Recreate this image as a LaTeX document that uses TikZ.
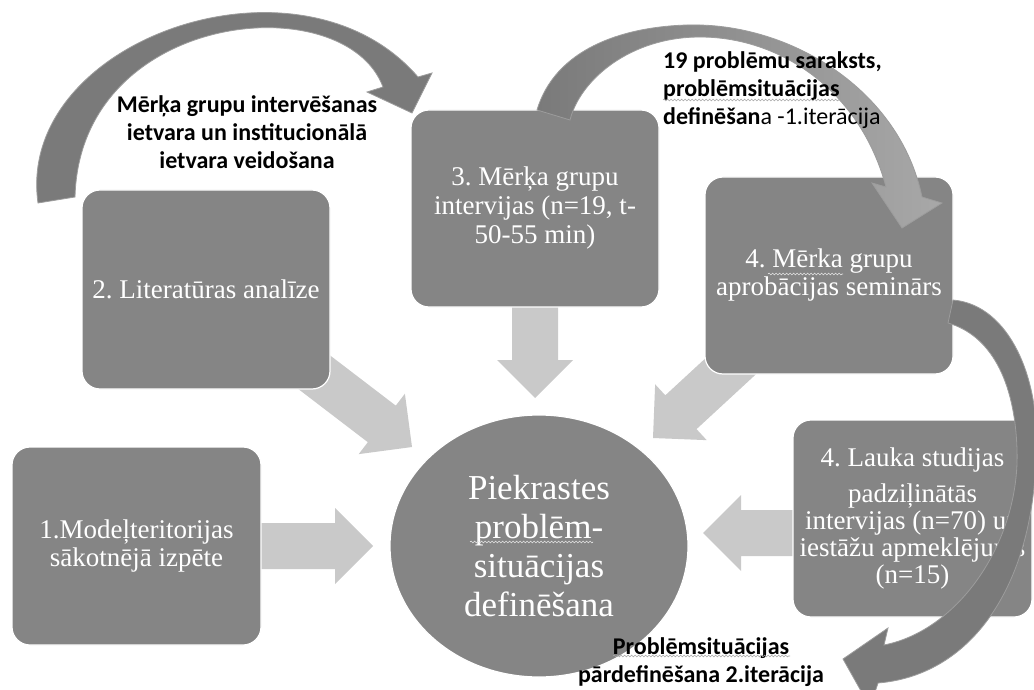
\documentclass[tikz,border=0pt]{standalone}
\usepackage{fontspec}
\setmainfont{Liberation Serif}
\newfontfamily\labfont{Carlito}
\usetikzlibrary{calc,shapes.geometric,decorations.pathmorphing}
\pgfdeclarelayer{background}
\pgfsetlayers{background,main}
\definecolor{boxgray}{HTML}{858585}
\definecolor{lightarrow}{HTML}{C9C9C9}
\definecolor{darkarc}{HTML}{7A7A7A}
\definecolor{lightarc}{HTML}{A8A8A8}
\definecolor{arcedge}{HTML}{9C9C9C}
\newcommand\blockarr[2]{%
  \coordinate (ba-b) at ($(#2)!38pt!(#1)$);
  \fill[lightarrow] ($(#1)!23pt!90:(#2)$) -- ($(ba-b)!23pt!-90:(#1)$) -- ($(ba-b)!38pt!-90:(#1)$) -- (#2) -- ($(ba-b)!38pt!90:(#1)$) -- ($(ba-b)!23pt!90:(#1)$) -- ($(#1)!23pt!-90:(#2)$) -- cycle;}
\frenchspacing
\begin{document}
\begin{tikzpicture}[x=1pt,y=-1pt,
  stepbox/.style={draw=white, line width=1.2pt, fill=boxgray, rounded corners=18pt, text=white,
    font=\fontsize{27}{28}\selectfont, align=center, inner sep=0pt},
  lab/.style={font=\labfont\bfseries\fontsize{24}{28}\selectfont, inner sep=0pt, text=black},
  squig/.style={decorate, decoration={snake, amplitude=0.9pt, segment length=3.5pt}, line width=0.6pt}]
\useasboundingbox (0,0) rectangle (1034,690);

% boxes
\node[stepbox, minimum width=249pt, minimum height=198pt] (b1) at (136.5,546) {1.Modeļteritorijas\\sākotnējā izpēte};
\node[stepbox, minimum width=248pt, minimum height=199pt] (b2) at (206,289.5) {2. Literatūras analīze};
\node[stepbox, minimum width=248pt, minimum height=197pt, font=\fontsize{27}{29}\selectfont] (b3) at (535,208.5) {3. Mērķa grupu\\intervijas (n=19, t-\\50-55 min)};
\node[stepbox, minimum width=248pt, minimum height=197pt] (b4) at (829,275.5) {4. Mērka grupu\\aprobācijas seminārs};
\node[stepbox, minimum width=239pt, minimum height=197pt, font=\fontsize{27}{27}\selectfont] (b5) at (912.5,518.5) {4. Lauka studijas\\[9pt]padziļinātās\\intervijas (n=70) un\\iestāžu apmeklējums\\(n=15)};

% centre
\node[ellipse, fill=boxgray, draw=white, line width=1.2pt, minimum width=298pt, minimum height=262pt,
  text=white, font=\fontsize{35}{39}\selectfont, align=center, inner sep=0pt] (c) at (539,546)
  {Piekrastes\\problēm-\\situācijas\\definēšana};

% light block arrows
\coordinate (t1) at (373,546);
\coordinate (t2) at (412,447);
\coordinate (t3) at (535,398);
\coordinate (t4) at (653,438);
\coordinate (t5) at (703,533);
\coordinate (s5) at (b5.center |- t5);
\begin{pgfonlayer}{background}
\fill[white] (0,0) rectangle (1034,690);
\blockarr{b1.center}{t1}
\blockarr{b2.center}{t2}
\blockarr{b3.center}{t3}
\blockarr{b4.center}{t4}
\blockarr{s5}{t5}
\end{pgfonlayer}

% curved arrows
\filldraw[fill=darkarc, draw=arcedge, line width=0.8pt]
 (38,203) .. controls (15,40) and (300,-60) .. (418,77)
 -- (432,73) -- (412,113) -- (367,92) -- (383,87)
 .. controls (345,-15) and (80,10) .. (75,197) -- cycle;

\shadedraw[left color=darkarc, middle color=darkarc!60!lightarc, right color=lightarc, draw=arcedge, line width=0.8pt]
 (537,110) .. controls (555,50) and (620,27) .. (687,25)
 .. controls (790,22) and (900,90) .. (922,197)
 -- (942,203) -- (902,228) -- (872,183) -- (886,187)
 .. controls (860,90) and (780,37) .. (700,37)
 .. controls (630,37) and (580,80) .. (570,120) -- cycle;

\filldraw[fill=darkarc, draw=arcedge, line width=0.8pt]
 (953,300) .. controls (1010,305) and (1040,380) .. (1036,450)
 .. controls (1035,580) and (975,675) .. (878,683)
 -- (870,707) -- (843,659) -- (888,628) -- (884,645)
 .. controls (960,630) and (1020,540) .. (1017,450)
 .. controls (1015,380) and (990,335) .. (948,323) -- cycle;

% labels
\node[lab, align=center] (la) at (247,132) {Mērķa grupu intervēšanas\\ietvara un institucionālā\\ietvara veidošana};
\node[lab, align=left, anchor=west] (lb) at (663,90) {19 problēmu saraksts,\\problēmsituācijas\\definēšan{\mdseries a -1.iterācija}};
\node[lab, align=center] (lc) at (701,662) {Problēmsituācijas\\pārdefinēšana 2.iterācija};

% spelling underlines
\draw[squig, gray!70] (663,100) -- (840,100);
\draw[squig, gray!70] (613,656) -- (790,656);
\draw[squig, white!80!gray] (470,542) -- (593,542);
\draw[squig, white!80!gray] (768,274) -- (843,274);
\end{tikzpicture}
\end{document}
